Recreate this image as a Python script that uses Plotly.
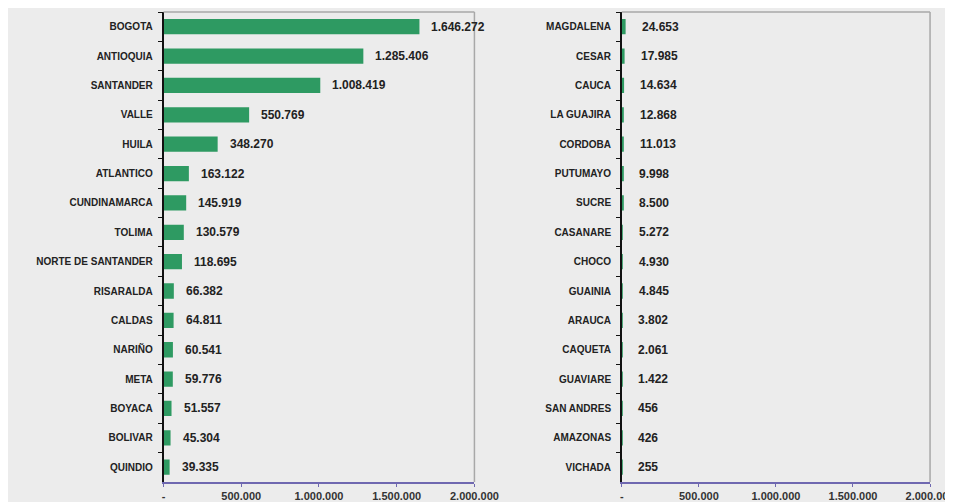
import plotly.graph_objects as go
from plotly.subplots import make_subplots

left_deptos = ["BOGOTA", "ANTIOQUIA", "SANTANDER", "VALLE", "HUILA", "ATLANTICO",
               "CUNDINAMARCA", "TOLIMA", "NORTE DE SANTANDER", "RISARALDA", "CALDAS",
               "NARIÑO", "META", "BOYACA", "BOLIVAR", "QUINDIO"]
left_values = [1646272, 1285406, 1008419, 550769, 348270, 163122, 145919, 130579,
               118695, 66382, 64811, 60541, 59776, 51557, 45304, 39335]

right_deptos = ["MAGDALENA", "CESAR", "CAUCA", "LA GUAJIRA", "CORDOBA", "PUTUMAYO",
                "SUCRE", "CASANARE", "CHOCO", "GUAINIA", "ARAUCA", "CAQUETA",
                "GUAVIARE", "SAN ANDRES", "AMAZONAS", "VICHADA"]
right_values = [24653, 17985, 14634, 12868, 11013, 9998, 8500, 5272, 4930, 4845,
                3802, 2061, 1422, 456, 426, 255]

x_ticks = [0, 500000, 1000000, 1500000, 2000000]
x_tick_text = ["-", "500.000", "1.000.000", "1.500.000", "2.000.000"]

GREEN = "#2e9a62"
BG = "#ececec"
FONT = "Liberation Sans, Arial, sans-serif"

LEFT_DOM = [0.1656, 0.501]
RIGHT_DOM = [0.660, 0.9925]
Y_DOM = [0.056, 0.992]


def fmt(v):
    return f"{v:,}".replace(",", ".")


fig = make_subplots(rows=1, cols=2)

panels = [(left_deptos, left_values, 1, 10), (right_deptos, right_values, 2, 14)]
for names, values, col, shift in panels:
    fig.add_trace(
        go.Bar(
            x=values,
            y=names,
            orientation="h",
            marker=dict(color=GREEN, line=dict(width=0)),
            width=0.52,
            showlegend=False,
            hoverinfo="skip",
        ),
        row=1,
        col=col,
    )
    xref = "x" if col == 1 else "x2"
    yref = "y" if col == 1 else "y2"
    for name, v in zip(names, values):
        fig.add_annotation(
            x=v, y=name, xref=xref, yref=yref,
            text=fmt(v), showarrow=False, xanchor="left", xshift=shift,
            font=dict(family=FONT, size=12, color="#222222", weight="bold"),
        )

axis_common = dict(
    range=[0, 2000000],
    tickvals=x_ticks,
    ticktext=x_tick_text,
    ticks="outside",
    ticklen=3,
    tickcolor="#6f68b0",
    showline=True,
    linecolor="#6f68b0",
    linewidth=1.5,
    showgrid=False,
    zeroline=False,
    tickfont=dict(family=FONT, size=11, color="#333333", weight="bold"),
)
yaxis_common = dict(
    autorange="reversed",
    ticks="outside",
    ticklen=4,
    tickson="boundaries",
    tickcolor="#111111",
    showline=True,
    linecolor="#111111",
    linewidth=1.5,
    showgrid=False,
    tickfont=dict(family=FONT, size=10, color="#222222", weight="bold"),
    ticklabelstandoff=7,
)

fig.update_xaxes(axis_common, row=1, col=1, domain=LEFT_DOM)
fig.update_xaxes(axis_common, row=1, col=2, domain=RIGHT_DOM)
fig.update_yaxes(yaxis_common, row=1, col=1, domain=Y_DOM)
fig.update_yaxes(yaxis_common, row=1, col=2, domain=Y_DOM)

# gray frame on the top and right of each plot area
for x0, x1 in [LEFT_DOM, RIGHT_DOM]:
    fig.add_shape(type="line", xref="paper", yref="paper", x0=x0, x1=x1,
                  y0=Y_DOM[1], y1=Y_DOM[1], line=dict(color="#a8a8a8", width=1.5))
    fig.add_shape(type="line", xref="paper", yref="paper", x0=x1, x1=x1,
                  y0=Y_DOM[0], y1=Y_DOM[1], line=dict(color="#a8a8a8", width=1.5))

fig.update_layout(
    width=953,
    height=502,
    margin=dict(l=0, r=0, t=0, b=0),
    paper_bgcolor=BG,
    plot_bgcolor=BG,
    font=dict(family=FONT),
)

fig.write_html("out.html")
